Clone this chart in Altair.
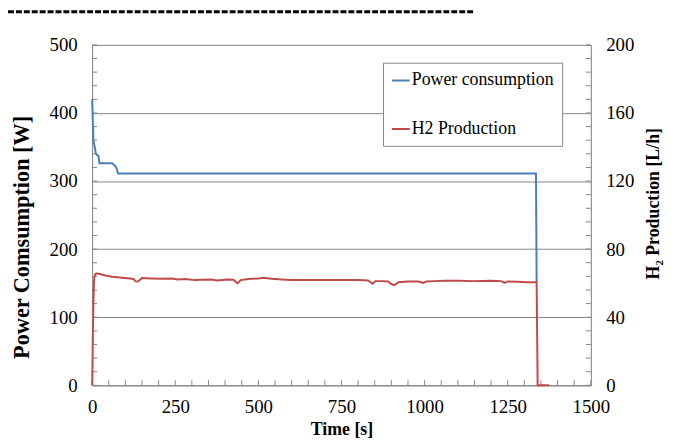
import altair as alt
import pandas as pd

# ---- data ----
power_t = [0, 2, 4, 7, 11, 15, 19, 22, 60, 66, 70, 74, 78, 1335, 1337]
power_w = [420, 390, 359, 352, 341, 338, 337, 326, 326, 324, 322, 318, 311, 311, 152]

h2_t = [0, 1, 3, 5, 7, 10, 13, 20, 40, 60, 90, 115, 125, 130, 138, 150, 180, 209, 240,
        258, 280, 309, 330, 358, 377, 407, 425, 437, 447, 470, 500, 516, 540, 570, 600,
        650, 700, 750, 800, 830, 844, 852, 870, 890, 900, 908, 915, 921, 950, 980, 997,
        1005, 1030, 1060, 1100, 1150, 1200, 1230, 1241, 1250, 1280, 1310, 1337, 1340, 1375]
h2_v = [0, 10, 40, 58, 64, 65.5, 65.7, 65.5, 64.5, 63.8, 63.2, 62.8, 62.4, 61.2, 61.0, 63.0,
        62.8, 62.6, 62.8, 62.2, 62.4, 61.8, 62.0, 62.2, 61.6, 62.2, 62.0, 59.9, 61.8, 62.4,
        62.8, 63.2, 62.6, 62.2, 61.8, 61.8, 61.9, 61.8, 61.8, 61.6, 59.7, 61.2, 61.2, 61.0,
        59.5, 58.9, 59.6, 60.6, 61.0, 61.0, 60.2, 61.0, 61.2, 61.4, 61.4, 61.2, 61.4, 61.2,
        60.2, 61.0, 60.8, 60.6, 60.6, 0, 0]

series_names = ["Power consumption", "H2 Production"]

x_ticks = [0, 250, 500, 750, 1000, 1250, 1500]
x_minor = list(range(0, 1501, 50))
left_ticks = [0, 100, 200, 300, 400, 500]
left_minor = list(range(0, 501, 20))
right_ticks = [0, 40, 80, 120, 160, 200]
right_minor = list(range(0, 201, 8))

power_df = pd.DataFrame({"t": power_t, "v": power_w, "series": series_names[0]})
h2_df = pd.DataFrame({"t": h2_t, "v": h2_v, "series": series_names[1]})
xm_df = pd.DataFrame({"v": x_minor})
lm_df = pd.DataFrame({"v": left_minor})
rm_df = pd.DataFrame({"v": right_minor})
deco_df = pd.DataFrame({"a": [0]})

FONT = "Liberation Serif"
GRAY = "#868686"
BLUE = "#4A7EBB"
RED = "#BE4B48"
W, H = 504, 344

xs = alt.Scale(domain=[0, 1500], nice=False, zero=False)
ys_p = alt.Scale(domain=[0, 500], nice=False)
ys_h = alt.Scale(domain=[0, 200], nice=False)

color = alt.Color(
    "series:N",
    scale=alt.Scale(domain=series_names, range=[BLUE, RED]),
    legend=alt.Legend(
        title=None, orient="none", legendX=294, legendY=18,
        fillColor="white", strokeColor=GRAY, padding=8, rowPadding=30,
        symbolType="stroke", symbolSize=324, symbolStrokeWidth=2,
        labelFont=FONT, labelFontSize=18, labelOffset=1, labelLimit=400,
        labelColor="black",
    ),
)

lab = dict(labelFont=FONT, labelFontSize=19, labelColor="black")
tit = dict(titleFont=FONT, titleFontWeight="bold", titleColor="black",
           titleAlign="center", titleBaseline="middle")

power = alt.Chart(power_df).mark_line(strokeWidth=2).encode(
    x=alt.X("t:Q", scale=xs, axis=alt.Axis(
        values=x_ticks, orient="bottom", grid=False, ticks=False, domainColor=GRAY,
        labelFlush=False, format="d", labelPadding=13,
        title="Time [s]", titleFontSize=18, titleX=252, titleY=45, **lab, **tit)),
    y=alt.Y("v:Q", scale=ys_p, axis=alt.Axis(
        values=left_ticks, orient="left", grid=True, gridColor=GRAY, ticks=False,
        domainColor=GRAY, labelPadding=15, title="Power Comsumption [W]",
        titleFontSize=22.5, titleAngle=270, titleX=-71, titleY=194, **lab, **tit)),
    color=color,
)

h2 = alt.Chart(h2_df).mark_line(strokeWidth=2).encode(
    x=alt.X("t:Q", scale=xs, axis=None),
    y=alt.Y("v:Q", scale=ys_h, axis=alt.Axis(
        values=right_ticks, orient="right", grid=False, ticks=False, domainColor=GRAY,
        labelPadding=15, title="H\u2082 Production [L/h]", titleFontSize=18,
        titleAngle=270, titleX=63, titleY=160, **lab, **tit)),
    color=color,
)

minor_x = alt.Chart(xm_df).mark_rule(color=GRAY, strokeWidth=1).encode(
    x=alt.X("v:Q", scale=xs, axis=None), y=alt.value(H), y2=alt.value(H - 5)
)
minor_left = alt.Chart(lm_df).mark_rule(color=GRAY, strokeWidth=1).encode(
    y=alt.Y("v:Q", scale=ys_p, axis=None), x=alt.value(0), x2=alt.value(5)
)
minor_right = alt.Chart(rm_df).mark_rule(color=GRAY, strokeWidth=1).encode(
    y=alt.Y("v:Q", scale=ys_h, axis=None), x=alt.value(W - 5), x2=alt.value(W)
)

dash = alt.Chart(deco_df).mark_rule(strokeDash=[6, 2], strokeWidth=3, color="black").encode(
    x=alt.value(-85), x2=alt.value(387), y=alt.value(-33.5)
)

chart = alt.layer(minor_x, minor_left, minor_right, power, h2, dash).resolve_scale(
    x="independent", y="independent"
).properties(
    width=W, height=H,
    autosize=alt.AutoSizeParams(type="none"),
    padding={"left": 85, "top": 35, "right": 80, "bottom": 53},
).configure_view(stroke=None).configure_axis(
    labelFont=FONT, titleFont=FONT
).configure(background="white")

chart.save("out.html", embed_options={"renderer": "svg", "actions": False})
